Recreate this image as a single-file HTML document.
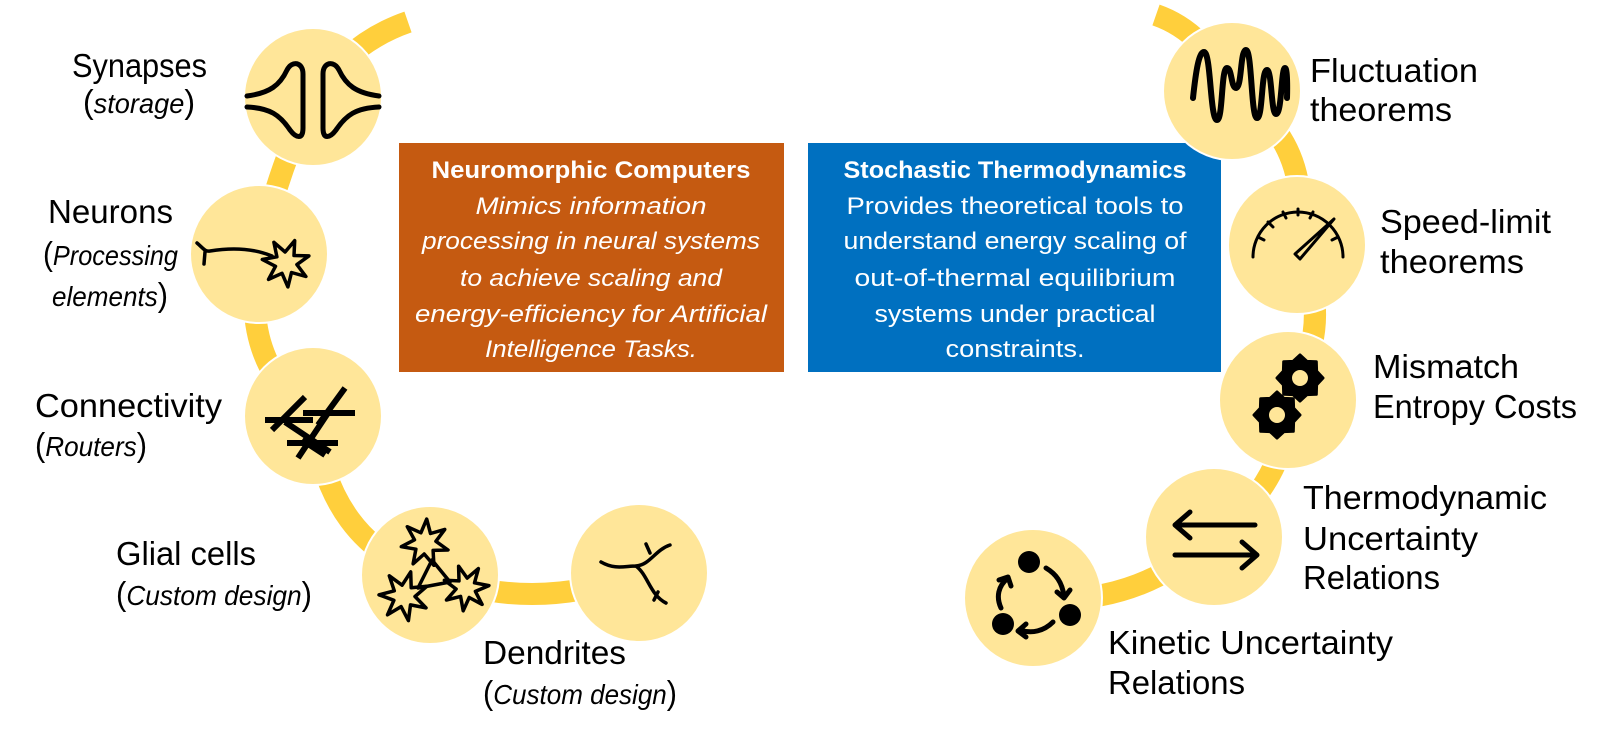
<!DOCTYPE html>
<html><head><meta charset="utf-8"><style>
html,body{margin:0;padding:0;background:#fff;}
svg{display:block;}
text{font-family:"Liberation Sans",sans-serif;}
</style></head><body>
<svg id="s" width="1600" height="742" viewBox="0 0 1600 742" xmlns="http://www.w3.org/2000/svg">
<g fill="none" stroke="#FFCF3C" stroke-width="22">
<path d="M408,22 Q350,42 313,97 Q278,168 259,254 Q238,361 313,416 Q328,544 430,575 Q535,614 639,573"/>
<path d="M1156,15 Q1205,32 1232,91 Q1315,142 1297,245 Q1337,322 1288,400 Q1289,480 1214,537 Q1136,608 1033,598"/>
</g>
<rect x="399" y="143" width="385" height="229" fill="#C55A11"/>
<rect x="808" y="143" width="413" height="229" fill="#0070C0"/>
<g fill="#FFE699" stroke="#fff" stroke-width="2">
<circle cx="313" cy="97" r="69"/><circle cx="259" cy="254" r="69"/><circle cx="313" cy="416" r="69"/>
<circle cx="430" cy="575" r="69"/><circle cx="639" cy="573" r="69"/>
<circle cx="1232" cy="91" r="69"/><circle cx="1297" cy="245" r="69"/><circle cx="1288" cy="400" r="69"/>
<circle cx="1214" cy="537" r="69"/><circle cx="1033" cy="598" r="69"/>
</g>
<g fill="none" stroke="#000" stroke-linecap="round" stroke-linejoin="round">
<path stroke-width="5" d="M247,96 C270,93 280,85 287,70 C292,60 303,62 303,74 L303,128 C303,140 296,138 290,130 C280,115 270,108 247,107"/>
<path stroke-width="5" d="M379,96 C356,93 346,85 339,70 C334,60 323,62 323,74 L323,128 C323,140 330,138 336,130 C346,115 356,108 379,107"/>
<path stroke-width="3.5" d="M197,243 C203,248 205,252 210,251 C235,247 255,249 272,256 M205,252 L204,264"/>
<path stroke-width="6" stroke-linecap="butt" d="M265,420 L313,420 M303,413 L355,413 M287,443 L338,443 M272,430 L305,397 M318,425 L345,388 M298,458 L330,410 M285,422 L330,452 M302,440 L325,455"/>
<path stroke-width="3.5" d="M601,562 C615,570 625,566 636,566 C650,565 655,550 670,545 M636,566 C648,575 650,595 666,603 M650,553 L646,544 M658,592 L654,600"/>
<path stroke-width="6" d="M1193,98 C1196,70 1199,52 1204,52 C1211,52 1210,120 1217,120 C1223,120 1221,68 1227,68 C1232,68 1231,88 1236,88 C1242,88 1240,50 1246,50 C1252,50 1251,118 1257,118 C1263,118 1261,70 1267,70 C1272,70 1271,114 1276,114 C1282,114 1281,68 1285,68 C1288,68 1287,98 1287,98"/>
<path stroke-width="3" d="M1253,257 A45,45 0 0 1 1343,257"/>
<path stroke-width="3" d="M1258,237 L1264,240 M1268,222 L1273,227 M1283,212 L1286,218 M1298,209 L1298,215 M1313,212 L1310,218 M1338,237 L1332,240"/>
<path stroke-width="3" d="M1295,254 L1334,219 L1300,259 Z"/>
<path stroke-width="5" d="M1175,525 L1255,525 M1190,512 L1175,525 L1190,538 M1175,555 L1257,555 M1242,542 L1257,555 L1242,568"/>
<path stroke-width="5" d="M1046,568 C1056,574 1062,582 1064,596 M1057,592 L1064,598 L1070,590 M1053,622 C1044,631 1032,634 1020,630 M1026,624 L1018,631 L1026,637 M1001,608 C996,597 998,586 1008,578 M999,580 L1008,577 L1011,586"/>
</g>
<g fill="#000"><circle cx="1029" cy="562" r="11"/><circle cx="1070" cy="615" r="11"/><circle cx="1003" cy="624" r="11"/></g>
<g id="stars" fill="none" stroke="#000" stroke-width="3.5" stroke-linejoin="round"></g>
<g id="gears"></g>
<g fill="#fff" font-size="24" text-anchor="middle">
<text x="591" y="178" font-weight="bold" textLength="319" lengthAdjust="spacingAndGlyphs">Neuromorphic Computers</text>
<g font-style="italic">
<text x="591" y="214" textLength="231" lengthAdjust="spacingAndGlyphs">Mimics information</text>
<text x="591" y="249" textLength="338" lengthAdjust="spacingAndGlyphs">processing in neural systems</text>
<text x="591" y="286" textLength="262" lengthAdjust="spacingAndGlyphs">to achieve scaling and</text>
<text x="591" y="322" textLength="352" lengthAdjust="spacingAndGlyphs">energy-efficiency for Artificial</text>
<text x="591" y="357" textLength="212" lengthAdjust="spacingAndGlyphs">Intelligence Tasks.</text>
</g>
<text x="1015" y="178" font-weight="bold" textLength="343" lengthAdjust="spacingAndGlyphs">Stochastic Thermodynamics</text>
<text x="1015" y="214" textLength="337" lengthAdjust="spacingAndGlyphs">Provides theoretical tools to</text>
<text x="1015" y="249" textLength="343" lengthAdjust="spacingAndGlyphs">understand energy scaling of</text>
<text x="1015" y="286" textLength="321" lengthAdjust="spacingAndGlyphs">out-of-thermal equilibrium</text>
<text x="1015" y="322" textLength="281" lengthAdjust="spacingAndGlyphs">systems under practical</text>
<text x="1015" y="357" textLength="139" lengthAdjust="spacingAndGlyphs">constraints.</text>
</g>
<g fill="#000" font-size="33">
<text x="72" y="77" textLength="135" lengthAdjust="spacingAndGlyphs">Synapses</text>
<text x="83" y="113" textLength="112" lengthAdjust="spacingAndGlyphs">(<tspan font-style="italic" font-size="28">storage</tspan>)</text>
<text x="48" y="223" textLength="125" lengthAdjust="spacingAndGlyphs">Neurons</text>
<text x="43" y="265" textLength="135" lengthAdjust="spacingAndGlyphs">(<tspan font-style="italic" font-size="28">Processing</tspan></text>
<text x="52" y="306" textLength="116" lengthAdjust="spacingAndGlyphs"><tspan font-style="italic" font-size="28">elements</tspan>)</text>
<text x="35" y="417" textLength="187" lengthAdjust="spacingAndGlyphs">Connectivity</text>
<text x="35" y="456" textLength="112" lengthAdjust="spacingAndGlyphs">(<tspan font-style="italic" font-size="28">Routers</tspan>)</text>
<text x="116" y="565" textLength="140" lengthAdjust="spacingAndGlyphs">Glial cells</text>
<text x="116" y="605" textLength="196" lengthAdjust="spacingAndGlyphs">(<tspan font-style="italic" font-size="28">Custom design</tspan>)</text>
<text x="483" y="664" textLength="143" lengthAdjust="spacingAndGlyphs">Dendrites</text>
<text x="483" y="704" textLength="194" lengthAdjust="spacingAndGlyphs">(<tspan font-style="italic" font-size="28">Custom design</tspan>)</text>
<text x="1310" y="82" textLength="168" lengthAdjust="spacingAndGlyphs">Fluctuation</text>
<text x="1310" y="121" textLength="142" lengthAdjust="spacingAndGlyphs">theorems</text>
<text x="1380" y="233" textLength="171" lengthAdjust="spacingAndGlyphs">Speed-limit</text>
<text x="1380" y="273" textLength="144" lengthAdjust="spacingAndGlyphs">theorems</text>
<text x="1373" y="378" textLength="146" lengthAdjust="spacingAndGlyphs">Mismatch</text>
<text x="1373" y="418" textLength="204" lengthAdjust="spacingAndGlyphs">Entropy Costs</text>
<text x="1303" y="509" textLength="244" lengthAdjust="spacingAndGlyphs">Thermodynamic</text>
<text x="1303" y="550" textLength="175" lengthAdjust="spacingAndGlyphs">Uncertainty</text>
<text x="1303" y="589" textLength="137" lengthAdjust="spacingAndGlyphs">Relations</text>
<text x="1108" y="654" textLength="285" lengthAdjust="spacingAndGlyphs">Kinetic Uncertainty</text>
<text x="1108" y="694" textLength="137" lengthAdjust="spacingAndGlyphs">Relations</text>
</g>
</svg>
<script>
(function(){
var NS="http://www.w3.org/2000/svg";
function star(cx,cy,ro,ri,n,rot){var p=[];for(var i=0;i<2*n;i++){var r=i%2?ri:ro;var a=rot+Math.PI*i/n;p.push((cx+r*Math.cos(a)).toFixed(1)+","+(cy+r*Math.sin(a)).toFixed(1));}return p.join(" ");}
var g=document.getElementById("stars");
[[286,263,24,11,7,-1.2],[425,543,24,11,7,-1.5],[404,596,25,11,7,-1.3],[466,588,23,10,7,-1.0]].forEach(function(s){
var e=document.createElementNS(NS,"polygon");e.setAttribute("points",star(s[0],s[1],s[2],s[3],s[4],s[5]));g.appendChild(e);});
var t=document.createElementNS(NS,"polygon");t.setAttribute("points","432,560 418,588 450,582");g.appendChild(t);
var gg=document.getElementById("gears");
[[1300,378],[1277,415]].forEach(function(c){
var e=document.createElementNS(NS,"polygon");e.setAttribute("points",star(c[0],c[1],23,18,8,0));e.setAttribute("fill","#000");e.setAttribute("stroke","#000");e.setAttribute("stroke-width","3");e.setAttribute("stroke-linejoin","round");gg.appendChild(e);
var h=document.createElementNS(NS,"circle");h.setAttribute("cx",c[0]);h.setAttribute("cy",c[1]);h.setAttribute("r","8");h.setAttribute("fill","#FFE699");gg.appendChild(h);});
})();
</script>
</body></html>
